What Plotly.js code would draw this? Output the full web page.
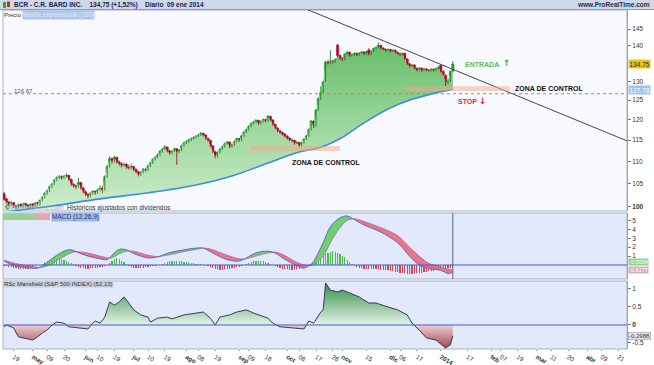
<!DOCTYPE html>
<html><head><meta charset="utf-8">
<script src="https://cdn.plot.ly/plotly-3.0.1.min.js"></script>
<style>html,body{margin:0;padding:0;background:#fff;}#chart{width:654px;height:365px;}</style>
</head><body><div id="chart"></div>
<script>
// ---------- calendar & ticks ----------
const startDate = '2013-04-15', endDate = '2014-04-25';
const holidays = ['2013-05-27','2013-07-04','2013-09-02','2013-11-28','2013-12-25','2014-01-01','2014-01-20','2014-02-17','2014-04-18'];
const tickDates = ['2013-04-19','2013-05-01','2013-05-09','2013-05-20','2013-06-03','2013-06-10','2013-06-19','2013-07-01','2013-07-10','2013-07-19','2013-08-01','2013-08-08','2013-08-19','2013-09-03','2013-09-09','2013-09-18','2013-10-01','2013-10-08','2013-10-17','2013-10-28','2013-11-01','2013-11-15','2013-12-02','2013-12-06','2013-12-17','2014-01-02','2014-01-17','2014-02-03','2014-02-07','2014-02-19','2014-03-03','2014-03-11','2014-03-20','2014-04-01','2014-04-09','2014-04-21'];
const tickText = ['19','<b>may</b>','09','20','<b>jun</b>','10','19','<b>jul</b>','10','19','<b>ago</b>','08','19','<b>sep</b>','09','18','<b>oct</b>','08','17','28','<b>nov</b>','15','<b>dic</b>','06','17','<b>2014</b>','17','<b>feb</b>','07','19','<b>mar</b>','11','20','<b>abr</b>','09','21'];

// ---------- daily prices (BCR, trading days from 2013-04-15) ----------
const opens = [102.8,101.7,101.0,100.4,100.9,100.1,99.9,100.5,100.1,100.7,
100.4,100.0,100.6,100.2,100.9,100.6,101.4,102.0,102.9,103.4,
104.2,104.9,105.8,106.3,106.5,106.2,106.6,106.8,105.9,104.8,
104.5,104.3,105.2,104.0,103.2,102.6,102.2,102.8,103.3,103.0,
103.6,104.0,103.6,106.5,108.9,110.6,109.9,110.9,109.8,109.4,
109.0,109.3,108.6,108.4,108.8,108.1,107.6,106.9,107.5,108.2,
108.0,108.9,109.6,110.4,110.9,111.5,112.3,112.8,113.3,112.4,
111.8,112.3,112.9,112.1,112.6,113.6,114.3,114.6,115.0,115.3,
115.6,115.9,116.2,116.6,116.2,115.4,114.9,113.6,112.2,111.1,
112.0,112.8,113.4,114.1,114.5,113.4,113.8,114.6,115.3,114.9,
116.0,116.9,117.5,118.3,119.0,119.4,119.8,119.0,119.5,120.0,
119.6,120.8,119.9,118.8,117.9,117.2,116.8,116.4,115.9,115.4,
115.0,114.9,114.2,114.4,113.6,114.3,115.2,116.0,117.5,119.6,
118.4,122.4,125.4,127.0,130.0,135.3,135.0,135.6,135.4,140.2,
137.2,136.4,136.0,137.6,138.1,137.1,137.4,137.8,137.3,137.9,
138.2,137.6,138.8,137.5,138.4,139.2,139.5,140.1,139.3,139.0,
138.6,138.9,138.4,138.7,138.1,137.7,137.4,137.8,136.2,134.8,
134.1,134.5,133.6,133.0,133.6,132.9,133.4,133.1,132.9,133.3,
133.0,133.5,134.4,132.7,131.6,129.7,130.0,132.8];
const highs = [103.2,102.0,101.3,101.2,101.0,100.5,100.7,100.8,100.9,100.9,
100.6,100.8,100.8,101.0,101.1,101.6,102.3,103.1,103.7,104.6,
105.2,106.0,106.6,106.9,106.8,106.9,107.3,107.0,106.1,105.1,
104.8,106.3,105.4,104.3,103.5,103.0,103.1,103.6,103.5,103.9,
104.6,104.5,106.8,109.2,111.2,110.9,111.3,111.1,110.2,109.8,
109.7,109.6,109.2,109.5,109.0,108.4,107.9,107.8,108.5,108.4,
109.2,109.9,110.7,111.2,111.8,112.6,113.1,113.8,113.5,112.7,
112.6,113.2,113.1,112.9,113.9,114.6,114.9,115.3,115.6,115.9,
116.2,116.5,116.9,116.8,116.4,115.6,115.1,113.8,112.5,112.3,
113.1,113.7,114.4,114.8,114.7,114.1,114.9,115.6,115.5,116.3,
117.2,117.8,118.6,119.3,119.7,120.1,120.0,119.8,120.3,120.2,
121.2,121.0,120.1,119.0,118.1,117.5,117.1,116.7,116.2,115.7,
115.4,115.1,114.8,114.6,114.6,115.5,116.3,117.8,119.9,119.8,
122.7,125.7,128.7,130.1,135.7,136.0,138.7,136.0,136.4,140.6,
137.5,136.7,137.9,138.5,138.3,137.7,138.1,138.0,138.2,138.5,
138.4,138.6,139.3,138.7,139.5,139.8,141.0,140.3,139.6,139.2,
139.2,139.1,139.0,138.9,138.3,137.9,138.1,138.0,136.4,135.1,
134.8,134.7,133.8,133.9,133.8,133.7,133.6,133.3,133.6,133.5,
133.8,134.3,134.7,133.0,131.9,130.5,132.9,135.6];
const lows = [101.3,100.7,100.2,100.2,99.8,99.5,99.7,99.9,99.9,100.0,
99.6,99.8,99.9,100.0,100.3,100.4,101.2,101.8,102.6,103.2,
104.0,104.7,105.5,106.0,105.9,106.0,106.3,105.6,104.5,104.1,
103.8,104.1,103.7,102.9,102.3,101.8,102.0,102.6,102.6,102.8,
103.4,103.0,103.5,106.3,108.6,109.5,109.7,109.5,109.0,108.6,
108.8,108.3,108.1,108.2,107.8,107.3,106.6,106.7,107.3,107.6,
107.8,108.7,109.4,110.2,110.7,111.3,112.0,112.6,112.1,111.5,
111.6,112.1,109.2,111.9,112.4,113.4,114.0,114.4,114.8,115.1,
115.4,115.7,116.0,115.9,115.1,114.6,113.3,111.9,110.7,110.9,
111.8,112.6,113.2,113.9,113.1,113.2,113.6,114.4,114.6,114.7,
115.8,116.7,117.3,118.1,118.8,119.2,118.7,118.8,119.3,119.3,
119.4,119.6,118.5,117.6,116.9,116.5,116.1,115.6,115.1,114.7,
114.5,113.9,114.0,113.2,113.4,114.1,115.0,115.8,117.3,117.9,
118.2,122.2,125.0,126.8,129.8,134.6,134.8,134.9,135.1,136.8,
136.0,135.6,135.8,137.3,136.8,136.9,137.1,137.0,137.1,137.7,
137.3,137.4,137.2,137.3,138.2,139.0,139.3,139.0,138.7,138.3,
138.4,138.1,138.2,137.8,137.4,137.1,137.2,135.9,134.5,133.8,
133.9,133.3,132.7,132.8,132.6,132.7,132.8,132.6,132.7,132.7,
132.8,133.3,132.4,131.5,128.7,129.3,129.8,132.6];
const closes = [101.6,101.0,100.5,100.9,100.2,99.9,100.4,100.1,100.6,100.3,
100.0,100.5,100.2,100.8,100.6,101.4,102.0,102.9,103.4,104.3,
104.9,105.8,106.3,106.5,106.2,106.6,106.8,105.9,104.8,104.5,
104.2,105.2,104.0,103.2,102.6,102.2,102.8,103.3,103.0,103.6,
104.0,103.5,106.5,108.8,110.6,109.9,110.9,109.8,109.4,109.0,
109.3,108.6,108.4,108.8,108.1,107.6,106.9,107.5,108.2,108.0,
108.9,109.6,110.4,110.9,111.5,112.3,112.8,113.3,112.4,111.8,
112.3,112.9,112.1,112.6,113.6,114.3,114.6,115.0,115.3,115.6,
115.9,116.2,116.6,116.2,115.4,114.9,113.6,112.2,111.1,112.0,
112.8,113.4,114.1,114.5,113.4,113.8,114.6,115.3,114.9,116.0,
116.9,117.5,118.3,119.0,119.4,119.8,119.0,119.5,120.0,119.6,
120.8,119.9,118.8,117.9,117.2,116.8,116.4,115.9,115.4,115.0,
114.9,114.2,114.4,113.6,114.3,115.2,116.0,117.5,119.6,118.3,
122.4,125.4,127.0,129.8,135.3,135.0,135.6,135.4,136.0,137.2,
136.4,136.0,137.6,138.1,137.1,137.4,137.8,137.3,137.9,138.2,
137.6,138.3,137.5,138.4,139.2,139.5,140.1,139.3,139.0,138.6,
138.9,138.4,138.7,138.1,137.7,137.4,137.8,136.2,134.8,134.1,
134.5,133.6,133.0,133.6,132.9,133.4,133.1,132.9,133.3,133.0,
133.5,133.8,132.7,131.8,129.7,130.0,132.73,134.75];

// exponential moving average (read at sparse points, index = trading day)
const maIdx = [0,20,40,60,80,95,110,122,132,140,150,160,170,180,187];
const maVal = [98.96,100.2,101.7,103.0,104.7,106.7,109.6,112.0,113.3,115.3,119.2,122.7,125.2,126.9,127.78];

// MACD (12,26,9)
const macdIdx = [0,3,7,11,14,16,19,22,26,28,30,35,40,43,45,48,51,54,60,64,66,70,75,80,83,86,93,98,101,105,110,113,116,120,123,125,128,129,133,136,140,143,146,150,157,164,169,173,177,182,185,187];
const macdVal = [0.45,0.05,-0.2,-0.35,-0.35,-0.1,0.5,1.1,1.65,1.7,1.5,1.0,0.7,0.6,1.1,1.75,1.7,1.3,0.8,0.9,1.1,1.45,1.7,1.9,1.9,1.5,0.6,0.45,0.8,1.35,1.55,1.35,0.8,0.2,-0.2,-0.35,0.1,0.4,2.5,4.3,5.3,5.5,5.1,4.5,3.7,2.5,1.0,0.0,-0.4,-0.6,-0.95,-0.8];
const signalVal = [0.55,0.3,0.05,-0.15,-0.25,-0.25,0.0,0.5,1.1,1.35,1.5,1.35,1.0,0.8,0.8,1.25,1.55,1.55,1.1,0.95,1.0,1.2,1.5,1.75,1.9,1.8,1.1,0.7,0.7,1.0,1.35,1.45,1.2,0.6,0.2,0.0,-0.05,0.1,1.0,2.5,4.2,5.0,5.2,4.9,4.2,3.3,2.0,1.0,0.2,-0.2,-0.45,-0.56];
const macdHist = [-0.1,-0.15,-0.2,-0.25,-0.3,-0.35,-0.4,-0.45,-0.5,-0.5,-0.45,-0.35,-0.25,-0.15,-0.05,
0.05,0.15,0.3,0.45,0.55,0.65,0.75,0.8,0.75,0.65,0.55,0.45,0.35,0.2,0.1,
-0.1,-0.2,-0.3,-0.35,-0.4,-0.4,-0.35,-0.35,-0.3,-0.3,-0.25,-0.2,-0.15,-0.05,
0.2,0.45,0.65,0.8,0.7,0.5,0.3,0.1,
-0.1,-0.2,-0.3,-0.35,-0.35,-0.3,-0.3,-0.25,-0.2,-0.15,-0.1,-0.08,-0.03,
0.05,0.15,0.25,0.35,0.4,0.45,0.5,0.5,0.45,0.4,0.35,0.3,0.3,0.25,0.2,0.15,0.1,0.08,0.05,0.02,
-0.1,-0.2,-0.3,-0.4,-0.5,-0.55,-0.55,-0.5,-0.45,-0.4,-0.35,-0.3,-0.25,-0.2,-0.1,-0.05,
0.1,0.2,0.3,0.4,0.45,0.5,0.45,0.4,0.3,0.2,0.1,0.05,
-0.1,-0.2,-0.3,-0.4,-0.45,-0.5,-0.55,-0.55,-0.5,-0.45,-0.4,-0.3,-0.2,-0.1,-0.05,
0.1,0.2,0.35,0.55,0.8,1.0,1.2,1.35,1.5,1.55,1.5,1.4,1.25,1.05,0.85,0.6,0.35,0.15,
-0.1,-0.2,-0.3,-0.35,-0.4,-0.45,-0.45,-0.5,-0.5,-0.5,-0.5,-0.55,-0.55,-0.6,-0.6,-0.65,-0.7,-0.75,-0.8,-0.85,-0.9,-0.95,-1.0,-1.0,-1.0,-0.95,-0.95,-0.9,-0.85,-0.8,-0.75,-0.7,-0.7,-0.65,-0.6,-0.55,-0.5,-0.45,-0.4,-0.35,-0.3,-0.25];
const macdLabels = ['-0.5634','-0.8177'];

// RSC Mansfield (S&P 500 INDEX) (52,13)
const rscIdx = [0,1,4,6,10,12,14,16,18,20,22,25,27,32,35,37,38,40,42,44,46,48,50,52,54,57,60,61,64,68,70,75,79,83,86,88,90,94,97,101,104,110,112,115,120,125,127,129,132,133,134,136,139,141,144,148,152,155,160,164,168,170,173,176,180,184,186,187];
const rscVal = [-0.05,0.0,-0.08,-0.33,-0.39,-0.42,-0.33,-0.22,-0.14,0.0,0.08,0.05,-0.05,-0.08,-0.11,0.05,0.11,0.05,0.22,0.64,0.55,0.64,0.78,0.61,0.42,0.28,0.22,0.08,0.19,0.22,0.17,0.28,0.33,0.36,0.19,0.0,0.22,0.28,0.36,0.42,0.33,0.19,0.05,-0.05,-0.08,-0.11,0.11,0.05,0.36,0.42,1.17,0.97,0.92,0.97,0.89,0.78,0.61,0.61,0.5,0.42,0.28,0.05,-0.14,-0.36,-0.42,-0.64,-0.55,-0.2988];

// drawing annotations (levels)
const stopLevel = 126.67;
const trendIdx = [126.7, 259.6];
const trendPrice = [150.9, 114.8];
const zoneTop = {i0:167, i1:210.8, lo:127.4, hi:128.7};
const zoneLow = {i0:102.5, i1:140, lo:112.4, hi:113.6};

// ---------- build ----------
function tradingDays(s,e,hol){const out=[];const d=new Date(s+'T00:00:00Z');const end=new Date(e+'T00:00:00Z');
  while(d<=end){const wd=d.getUTCDay();const iso=d.toISOString().slice(0,10);
    if(wd!==0&&wd!==6&&!hol.includes(iso))out.push(iso);d.setUTCDate(d.getUTCDate()+1);}return out;}
const days = tradingDays(startDate,endDate,holidays);
const tickVals = tickDates.map(t=>days.indexOf(t));
const xi = closes.map((_,i)=>i);
const last = closes.length-1;

const PX0=3,PW=624,PY0=10,PH=339;
const px=p=>(p-PX0)/PW, py=p=>(PY0+PH-p)/PH;
const FONT='Liberation Sans, Arial, sans-serif';
const UP='rgb(25,205,25)', DN='rgb(228,20,55)';
const UPL='rgb(0,120,10)', DNL='rgb(150,0,25)';

const traces=[];
// price: fill between close and EMA
traces.push({x:maIdx,y:maVal,type:'scatter',mode:'lines',line:{width:0},yaxis:'y',hoverinfo:'skip'});
traces.push({x:xi,y:closes,type:'scatter',mode:'lines',line:{width:0},fill:'tonexty',
  fillcolor:'rgba(150,210,150,0.8)',
  fillgradient:{type:'vertical',colorscale:[[0,'rgb(205,237,205)'],[0.5,'rgb(158,215,158)'],[1,'rgb(105,190,108)']]},
  yaxis:'y',hoverinfo:'skip'});
traces.push({x:maIdx,y:maVal,type:'scatter',mode:'lines',line:{color:'rgb(60,140,225)',width:1.6,shape:'spline'},yaxis:'y'});
// candle wicks
function wick(up){const x=[],y=[];xi.forEach(i=>{if((closes[i]>=opens[i])===up){x.push(i,i,null);y.push(lows[i],highs[i],null);}});
  return {x,y,type:'scatter',mode:'lines',line:{color:up?UPL:DNL,width:0.8},yaxis:'y',connectgaps:false,hoverinfo:'skip'};}
traces.push(wick(true),wick(false));
// candle bodies
traces.push({x:xi,base:opens,y:closes.map((c,i)=>c-opens[i]),type:'bar',yaxis:'y',width:0.95,
  marker:{color:closes.map((c,i)=>c>=opens[i]?UP:DN),line:{width:0.5,color:closes.map((c,i)=>c>=opens[i]?UPL:DNL)}},hoverinfo:'skip'});
traces.push({x:trendIdx,y:trendPrice,type:'scatter',mode:'lines',line:{color:'rgb(70,70,80)',width:1},yaxis:'y'});

// MACD histogram
traces.push({x:xi,y:macdHist,type:'bar',yaxis:'y2',width:0.45,
  marker:{color:macdHist.map(v=>v>=0?'rgb(70,190,70)':'rgb(230,60,75)'),line:{width:0}}});
// MACD bands
function segs(xs,a,b){const out=[];let cur={x:[xs[0]],a:[a[0]],b:[b[0]],pos:a[0]>=b[0]};
  for(let i=1;i<xs.length;i++){const pos=a[i]>=b[i];
    if(pos!==cur.pos){const d0=a[i-1]-b[i-1],d1=a[i]-b[i];const t=d0/(d0-d1);
      const xc=xs[i-1]+t*(xs[i]-xs[i-1]);const yc=a[i-1]+t*(a[i]-a[i-1]);
      cur.x.push(xc);cur.a.push(yc);cur.b.push(yc);out.push(cur);cur={x:[xc],a:[yc],b:[yc],pos};}
    cur.x.push(xs[i]);cur.a.push(a[i]);cur.b.push(b[i]);}
  out.push(cur);return out;}
segs(macdIdx,macdVal,signalVal).forEach(s=>{
  traces.push({x:s.x,y:s.b,type:'scatter',mode:'lines',line:{width:0,shape:'spline'},yaxis:'y2',hoverinfo:'skip'});
  traces.push({x:s.x,y:s.a,type:'scatter',mode:'lines',line:{width:0,shape:'spline'},fill:'tonexty',
    fillcolor:s.pos?'rgba(95,205,95,0.9)':'rgba(232,105,125,0.9)',yaxis:'y2',hoverinfo:'skip'});
});
traces.push({x:macdIdx,y:signalVal,type:'scatter',mode:'lines',line:{color:'rgba(170,90,140,0.8)',width:0.8,shape:'spline'},yaxis:'y2'});
traces.push({x:macdIdx,y:macdVal,type:'scatter',mode:'lines',line:{color:'rgb(100,100,200)',width:1,shape:'spline'},yaxis:'y2'});

// RSC
traces.push({x:rscIdx,y:rscVal,type:'scatter',mode:'lines',line:{color:'rgb(55,60,80)',width:1},fill:'tozeroy',
  fillcolor:'rgba(120,190,130,0.7)',
  fillgradient:{type:'vertical',start:-0.7,stop:1.2,colorscale:[[0,'rgb(150,60,70)'],[0.368,'rgb(238,205,210)'],[0.369,'rgb(228,242,230)'],[1,'rgb(45,140,70)']]},
  yaxis:'y3'});

const ax={showgrid:false,zeroline:false,side:'right',ticks:'outside',ticklen:3,tickcolor:'#777',
  tickfont:{family:FONT,size:6.5,color:'#333'},showline:true,linecolor:'#9aa3b5',linewidth:1,fixedrange:true};

const shapes=[
  {type:'rect',xref:'paper',yref:'paper',x0:px(0),x1:px(654),y0:py(9.5),y1:py(0),fillcolor:'rgb(206,216,230)',line:{width:0}},
  {type:'line',xref:'paper',yref:'paper',x0:px(0),x1:px(654),y0:py(9.5),y1:py(9.5),line:{color:'#8f9bb0',width:1}},
  {type:'rect',xref:'paper',yref:'y domain',x0:0,x1:1,y0:0,y1:1,fillcolor:'rgb(247,249,254)',line:{color:'#a8b1c2',width:1},layer:'below'},
  {type:'rect',xref:'paper',yref:'y2 domain',x0:0,x1:1,y0:0,y1:1,fillcolor:'rgb(226,233,250)',line:{color:'#a8b1c2',width:1},layer:'below'},
  {type:'rect',xref:'paper',yref:'y3 domain',x0:0,x1:1,y0:0,y1:1,fillcolor:'rgb(226,233,250)',line:{color:'#a8b1c2',width:1},layer:'below'},
  {type:'rect',xref:'x',yref:'y',x0:zoneTop.i0,x1:zoneTop.i1,y0:zoneTop.lo,y1:zoneTop.hi,fillcolor:'rgba(245,165,140,0.5)',line:{width:0}},
  {type:'rect',xref:'x',yref:'y',x0:zoneLow.i0,x1:zoneLow.i1,y0:zoneLow.lo,y1:zoneLow.hi,fillcolor:'rgba(245,165,140,0.5)',line:{width:0}},
  {type:'line',xref:'paper',yref:'y',x0:0,x1:1,y0:stopLevel,y1:stopLevel,line:{color:'rgb(215,110,115)',width:1,dash:'dot'}},
  {type:'line',xref:'paper',yref:'y2',x0:0,x1:1,y0:0,y1:0,line:{color:'rgb(70,90,210)',width:1}},
  {type:'line',xref:'paper',yref:'y3',x0:0,x1:1,y0:0,y1:0,line:{color:'rgb(70,90,210)',width:1}},
  {type:'line',xref:'x',yref:'y2 domain',x0:last,x1:last,y0:0,y1:1,line:{color:'rgb(95,105,130)',width:1}},
  {type:'rect',xref:'paper',yref:'paper',x0:px(3),x1:px(36),y0:py(220),y1:py(213.5),fillcolor:'rgb(150,210,150)',line:{width:0}},
  {type:'rect',xref:'paper',yref:'paper',x0:px(36),x1:px(50),y0:py(220),y1:py(213.5),fillcolor:'rgb(232,165,175)',line:{width:0}},
  {type:'rect',xref:'paper',yref:'paper',x0:px(3),x1:px(6),y0:py(8),y1:py(2),fillcolor:'rgb(40,170,40)',line:{width:0}},
  {type:'rect',xref:'paper',yref:'paper',x0:px(7),x1:px(10),y0:py(7),y1:py(1.5),fillcolor:'rgb(210,40,40)',line:{width:0}}
];

const ann=(x,y,text,opt)=>Object.assign({xref:'paper',yref:'paper',x:px(x),y:py(y),text,showarrow:false,xanchor:'left',yanchor:'middle',
  font:{family:FONT,size:6.5,color:'#222'}},opt||{});
const annotations=[
  ann(12,4.8,'<b>BCR - C.R. BARD INC.</b>    <b>134,75 (+1,52%)</b>    <b>Diario  09 ene 2014</b>',{font:{family:FONT,size:6.5,color:'rgb(25,35,85)'}}),
  ann(652,4.8,'<b>www.ProRealTime.com</b>',{xanchor:'right',font:{family:FONT,size:6.5,color:'rgb(30,45,90)'}}),
  ann(2,14.5,'Precio',{font:{family:FONT,size:6,color:'#333'}}),
  ann(22,14.5,'Media exponencial (100)',{bgcolor:'rgb(172,196,236)',font:{family:FONT,size:6.5,color:'rgb(225,235,252)'},borderpad:0}),
  ann(12,91,'126.67',{font:{family:FONT,size:6,color:'#555'}}),
  ann(3,207.5,'<b>©</b> <span style="color:#9ab">ProRealTime.com</span>  Históricos ajustados con dividendos',{font:{family:FONT,size:6.5,color:'#333'}}),
  ann(51,217,'MACD (12,26,9)',{bgcolor:'rgb(160,185,232)',font:{family:FONT,size:6.5,color:'rgb(40,60,130)'},borderpad:0}),
  ann(3,284,'RSc Mansfield (S&P 500 INDEX) (52,13)',{bgcolor:'rgb(200,208,222)',font:{family:FONT,size:6,color:'#333'},borderpad:0}),
  ann(463,65,'<b>ENTRADA</b>',{font:{family:FONT,size:7,color:'rgb(90,190,90)'}}),
  ann(501,63.5,'<b>↑</b>',{font:{family:'DejaVu Sans',size:9,color:'rgb(60,170,60)'}}),
  ann(513,88,'<b>ZONA DE CONTROL</b>',{font:{family:FONT,size:7,color:'#111'}}),
  ann(456,101,'<b>STOP</b>',{font:{family:FONT,size:7,color:'rgb(225,40,50)'}}),
  ann(477,101.5,'<b>↓</b>',{font:{family:'DejaVu Sans',size:9,color:'rgb(225,40,50)'}}),
  ann(290,162,'<b>ZONA DE CONTROL</b>',{font:{family:FONT,size:7,color:'#111'}}),
  {xref:'paper',yref:'y',x:1,y:Math.log10(closes[last]),xanchor:'left',xshift:1,text:closes[last].toFixed(2),showarrow:false,
    bgcolor:'rgb(230,200,20)',font:{family:FONT,size:6.5,color:'#222'},borderpad:0.5},
  {xref:'paper',yref:'y',x:1,y:Math.log10(maVal[maVal.length-1]),xanchor:'left',xshift:1,text:maVal[maVal.length-1].toFixed(2),showarrow:false,
    bgcolor:'rgb(160,195,240)',font:{family:FONT,size:6.5,color:'#fff'},borderpad:0.5},
  {xref:'paper',yref:'paper',x:1,y:py(265.5),xanchor:'left',xshift:1,text:macdLabels[0],showarrow:false,
    bgcolor:'rgb(150,210,150)',font:{family:FONT,size:5.5,color:'#fff'},borderpad:0.2},
  {xref:'paper',yref:'paper',x:1,y:py(273.5),xanchor:'left',xshift:1,text:macdLabels[1],showarrow:false,
    bgcolor:'rgb(215,175,190)',font:{family:FONT,size:5.5,color:'#fff'},borderpad:0.2},
  {xref:'paper',yref:'y3',x:1,y:rscVal[rscVal.length-1],xanchor:'left',xshift:1,text:rscVal[rscVal.length-1].toFixed(4),showarrow:false,
    bgcolor:'rgb(225,230,240)',bordercolor:'#889',borderwidth:0.5,font:{family:FONT,size:6,color:'#333'},borderpad:0.5}
];

const layout={
  width:654,height:365,margin:{l:3,r:27,t:10,b:16},paper_bgcolor:'#fff',plot_bgcolor:'rgba(0,0,0,0)',
  showlegend:false,barmode:'overlay',bargap:0,hovermode:false,
  xaxis:{range:[-0.417,259.58],anchor:'y3',tickvals:tickVals,ticktext:tickText,ticks:'outside',ticklen:1,tickcolor:'#888',
    tickfont:{family:FONT,size:6.3,color:'#333'},showgrid:false,zeroline:false,showline:false,rangeslider:{visible:false},fixedrange:true},
  yaxis:Object.assign({},ax,{domain:[0.4071,1],type:'log',range:[1.99637,2.1786],tickvals:[100,105,110,115,120,125,130,140,145],ticktext:['<b>100</b>','105','110','115','120','125','130','140','145']}),
  yaxis2:Object.assign({},ax,{domain:[0.2065,0.4012],range:[-1.573,5.843],tickvals:[1,2,3,4,5]}),
  yaxis3:Object.assign({},ax,{domain:[0,0.2006],range:[-0.667,1.222],tickvals:[-0.5,0,0.5,1],ticktext:['-0.5','<b>0</b>','0.5','1']}),
  shapes,annotations
};
Plotly.newPlot('chart',traces,layout,{staticPlot:true,displayModeBar:false});
</script></body></html>
